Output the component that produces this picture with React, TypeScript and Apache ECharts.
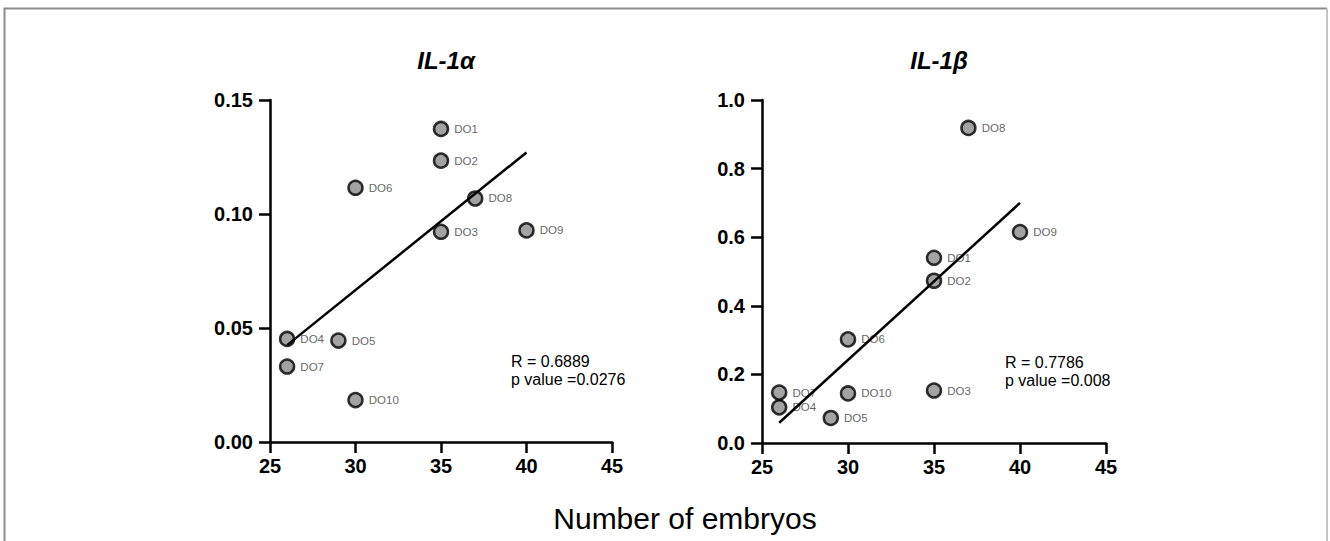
import React, { useEffect, useRef } from "react";
import * as echarts from "echarts";

const sampleNames = ["DO1", "DO2", "DO3", "DO4", "DO5", "DO6", "DO7", "DO8", "DO9", "DO10"];
const embryos = [35, 35, 35, 26, 29, 30, 26, 37, 40, 30];
const il1aValues = [0.1373, 0.1234, 0.0922, 0.0452, 0.0445, 0.1115, 0.0331, 0.1068, 0.0928, 0.0184];
const il1bValues = [0.54, 0.473, 0.153, 0.104, 0.073, 0.302, 0.147, 0.9185, 0.615, 0.1445];
const trendX = [26, 40];
const trendAlpha = [0.0425, 0.127];
const trendBeta = [0.059, 0.7];
const panelTitles = ["IL-1α", "IL-1β"];
const statsAlpha = ["R = 0.6889", "p value =0.0276"];
const statsBeta = ["R = 0.7786", "p value =0.008"];
const xAxisName = "Number of embryos";

const FONT = "'Liberation Sans', Arial, Helvetica, sans-serif";

function pts(ys: number[]) {
  return sampleNames.map((n, i) => ({ name: n, value: [embryos[i], ys[i]] }));
}

export default function App() {
  const ref = useRef<HTMLDivElement>(null);
  useEffect(() => {
    if (!ref.current) return;
    const chart = echarts.init(ref.current, null, { renderer: "svg" });
    const axisLine = { show: true, lineStyle: { color: "#000", width: 2.5 } };
    const axisTick = { show: true, length: 11, lineStyle: { color: "#000", width: 2.5 } };
    const tickLabel = { color: "#000", fontFamily: FONT, fontWeight: "bold" as const, fontSize: 20 };
    const xAx = (gi: number) => ({
      type: "value", gridIndex: gi, min: 25, max: 45, interval: 5,
      axisLine, axisTick, splitLine: { show: false },
      axisLabel: { ...tickLabel, margin: 14 },
    });
    const scatter = (gi: number, ys: number[]) => ({
      type: "scatter", xAxisIndex: gi, yAxisIndex: gi, data: pts(ys),
      symbol: "circle", symbolSize: 14, z: 2,
      itemStyle: { color: "#8c8c8c", borderColor: "#000", borderWidth: 2.5 },
      label: { show: true, position: "right", distance: 5, formatter: "{b}", color: "#3a3a3a", fontFamily: FONT, fontSize: 11.5 },
    });
    const trend = (gi: number, ys: number[]) => ({
      type: "line", xAxisIndex: gi, yAxisIndex: gi,
      data: trendX.map((x, i) => [x, ys[i]]), symbol: "none", z: 3,
      lineStyle: { color: "#000", width: 2.5 },
    });
    const titleStyle = { fontFamily: FONT, fontSize: 24, fontWeight: "bold" as const, fontStyle: "italic" as const, color: "#000" };
    chart.setOption({
      animation: false,
      backgroundColor: "#fff",
      title: [
        { text: panelTitles[0], left: 441, top: 43, textAlign: "center", textStyle: titleStyle },
        { text: panelTitles[1], left: 934, top: 43, textAlign: "center", textStyle: titleStyle },
      ],
      grid: [
        { left: 270, top: 100, width: 342, height: 342 },
        { left: 762, top: 100, width: 344, height: 343 },
      ],
      xAxis: [xAx(0), xAx(1)],
      yAxis: [
        { type: "value", gridIndex: 0, min: 0, max: 0.15, interval: 0.05, axisLine, axisTick, splitLine: { show: false },
          axisLabel: { ...tickLabel, margin: 17, formatter: (v: number) => v.toFixed(2) } },
        { type: "value", gridIndex: 1, min: 0, max: 1, interval: 0.2, axisLine, axisTick, splitLine: { show: false },
          axisLabel: { ...tickLabel, margin: 17, formatter: (v: number) => v.toFixed(1) } },
      ],
      series: [scatter(0, il1aValues), trend(0, trendAlpha), scatter(1, il1bValues), trend(1, trendBeta)],
      graphic: [
        { type: "polyline", shape: { points: [[4.5, 541], [4.5, 8.5], [1327, 8.5]] }, style: { stroke: "#8c8c8c", fill: null, lineWidth: 2 } },
        { type: "line", shape: { x1: 1327, y1: 8.5, x2: 1327, y2: 541 }, style: { stroke: "#c4c4c4", lineWidth: 2 } },
        { type: "text", x: 511, y: 352, style: { text: statsAlpha.join("\n"), font: `16px ${FONT}`, fill: "#000", lineHeight: 18 } },
        { type: "text", x: 1005, y: 353, style: { text: statsBeta.join("\n"), font: `16px ${FONT}`, fill: "#000", lineHeight: 18 } },
        { type: "text", x: 685, y: 518, style: { text: xAxisName, font: `30px ${FONT}`, fill: "#000", align: "center", verticalAlign: "middle" } },
      ],
    });
    return () => chart.dispose();
  }, []);
  return <div ref={ref} style={{ position: "fixed", left: 0, top: 0, width: 1330, height: 541 }} />;
}
